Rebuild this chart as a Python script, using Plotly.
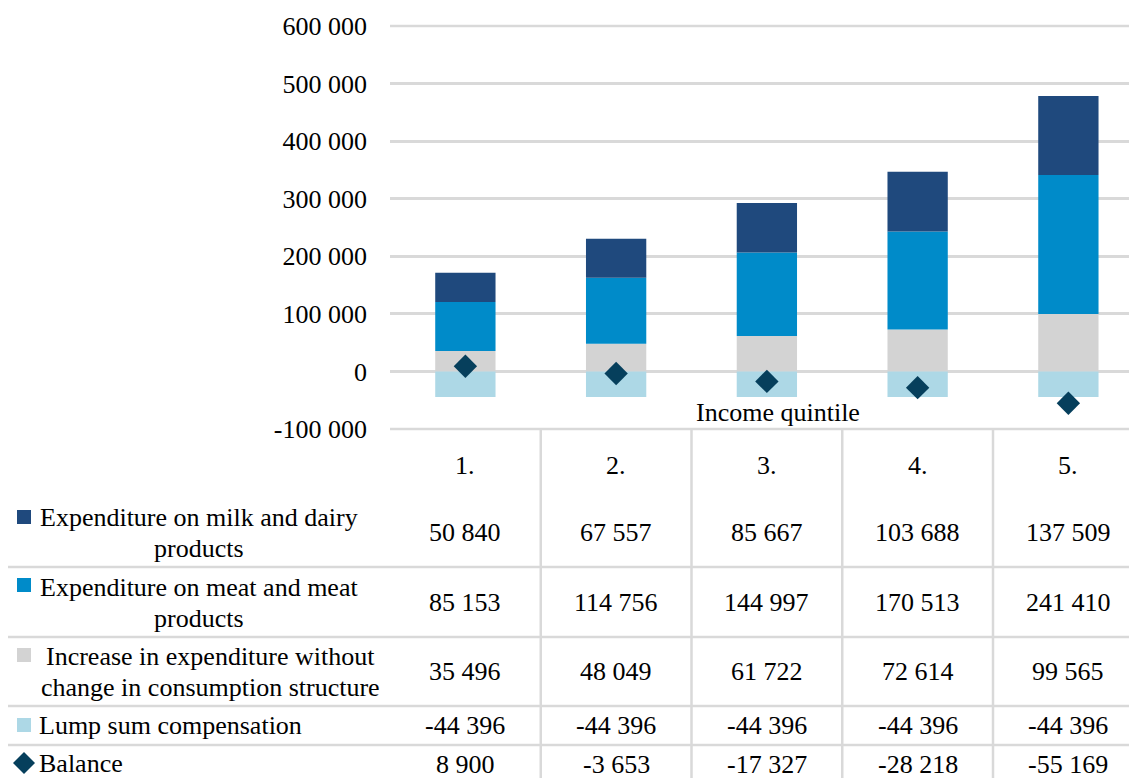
import plotly.graph_objects as go

# ---------------- data ----------------
quintiles = ["1.", "2.", "3.", "4.", "5."]
milk = [50840, 67557, 85667, 103688, 137509]
meat = [85153, 114756, 144997, 170513, 241410]
increase = [35496, 48049, 61722, 72614, 99565]
lump = [-44396, -44396, -44396, -44396, -44396]
balance = [8900, -3653, -17327, -28218, -55169]
y_ticks = [-100000, 0, 100000, 200000, 300000, 400000, 500000, 600000]
axis_title = "Income quintile"
row_labels = [
    ["Expenditure on milk and dairy", "products"],
    ["Expenditure on meat and meat", "products"],
    ["Increase in expenditure without", "change in consumption structure"],
    ["Lump sum compensation"],
    ["Balance"],
]

C_MILK = "#1F497D"
C_MEAT = "#008BC9"
C_INC = "#D3D3D3"
C_LUMP = "#ADD8E6"
C_BAL = "#063F5C"
GRID = "#D9D9D9"
FONT = "'Times New Roman', 'Liberation Serif', Tinos, 'DejaVu Serif', serif"
FS = 26

W, H = 1129, 778
L, T, B = 390, 26, 349
PW = W - L
PH = H - T - B
PB = H - B  # plot bottom pixel


def fmt(v):
    return f"{v:,}".replace(",", " ")


def px_x(x):
    return (x - L) / PW


def px_y(y):
    return (PB - y) / PH


xs = list(range(len(quintiles)))
fig = go.Figure()
fig.add_trace(go.Bar(x=xs, y=increase, marker=dict(color=C_INC, line=dict(width=0)), width=0.4, name=row_labels[2][0]))
fig.add_trace(go.Bar(x=xs, y=meat, marker=dict(color=C_MEAT, line=dict(width=0)), width=0.4, name=row_labels[1][0]))
fig.add_trace(go.Bar(x=xs, y=milk, marker=dict(color=C_MILK, line=dict(width=0)), width=0.4, name=row_labels[0][0]))
fig.add_trace(go.Bar(x=xs, y=lump, marker=dict(color=C_LUMP, line=dict(width=0)), width=0.4, name=row_labels[3][0]))
fig.add_trace(go.Scatter(x=xs, y=balance, mode="markers",
                         marker=dict(symbol="diamond", size=18, color=C_BAL, line=dict(width=0)),
                         name="Balance"))

shapes = []
annotations = []

# top gridline (600 000) and table top line (the -100 000 gridline)
for yy in [T, PB]:
    shapes.append(dict(type="line", xref="paper", yref="paper", x0=0, x1=1.0,
                       y0=px_y(yy), y1=px_y(yy), line=dict(color=GRID, width=2.5), layer="below"))
# row separator lines
for yy in [567, 637, 706, 745]:
    shapes.append(dict(type="line", xref="paper", yref="paper", x0=px_x(8), x1=1.0,
                       y0=px_y(yy), y1=px_y(yy), line=dict(color=GRID, width=2.5)))
# column separator lines
for i in range(len(quintiles) - 1):
    shapes.append(dict(type="line", xref="x", yref="paper", x0=i + 0.5, x1=i + 0.5,
                       y0=px_y(PB), y1=px_y(H + 2), line=dict(color=GRID, width=2.5)))

# header row
for i, q in enumerate(quintiles):
    annotations.append(dict(x=i, xref="x", y=px_y(465), yref="paper", text=q, showarrow=False,
                            xanchor="center", yanchor="middle", font=dict(family=FONT, size=FS, color="black")))

# value rows
row_values = [milk, meat, increase, lump, balance]
row_y = [532, 602, 671, 725, 764]
for vals, yy in zip(row_values, row_y):
    for i, v in enumerate(vals):
        annotations.append(dict(x=i, xref="x", y=px_y(yy), yref="paper", text=fmt(v), showarrow=False,
                                xanchor="center", yanchor="middle",
                                font=dict(family=FONT, size=FS, color="black")))

# row labels
label_pos = [
    [(199, 517), (199, 548)],
    [(199, 587), (199, 618)],
    [(210, 656), (210, 687)],
    [(37, 725)],
    [(37, 763)],
]
for lines, pos in zip(row_labels, label_pos):
    for k, (txt, (lx, ly)) in enumerate(zip(lines, pos)):
        anchor = "center" if len(lines) > 1 else "left"
        annotations.append(dict(x=px_x(lx), xref="paper", y=px_y(ly), yref="paper", text=txt,
                                showarrow=False, xanchor=anchor, yanchor="middle",
                                font=dict(family=FONT, size=FS, color="black")))

# legend keys
key_colors = [C_MILK, C_MEAT, C_INC, C_LUMP]
key_y = [517, 585, 655, 725]
for c, ky in zip(key_colors, key_y):
    shapes.append(dict(type="rect", xref="paper", yref="paper", x0=px_x(17), x1=px_x(31),
                       y0=px_y(ky - 7), y1=px_y(ky + 7), fillcolor=c, line=dict(width=0)))
# diamond key
cx, cy = 24, 763
pts = [(cx, cy - 11), (cx + 11, cy), (cx, cy + 11), (cx - 11, cy)]
path = "M " + " L ".join(f"{px_x(a)},{px_y(b)}" for a, b in pts) + " Z"
shapes.append(dict(type="path", xref="paper", yref="paper", path=path, fillcolor=C_BAL, line=dict(width=0)))

# axis title
annotations.append(dict(x=px_x(778), xref="paper", y=px_y(412), yref="paper", text=axis_title,
                        showarrow=False, xanchor="center", yanchor="middle",
                        font=dict(family=FONT, size=FS, color="black")))

fig.update_layout(
    width=W, height=H,
    margin=dict(l=L, r=0, t=T, b=B, pad=0),
    barmode="relative",
    showlegend=False,
    plot_bgcolor="white", paper_bgcolor="white",
    font=dict(family=FONT, size=FS, color="black"),
    shapes=shapes,
    annotations=annotations,
    xaxis=dict(range=[-0.5, -0.5 + PW / 150.75], showgrid=False, showticklabels=False,
               zeroline=False, showline=False, ticks=""),
    yaxis=dict(range=[-100000, 600000], tickvals=y_ticks,
               ticktext=[fmt(v) for v in y_ticks], showgrid=True, gridcolor=GRID, gridwidth=2.5,
               zeroline=True, zerolinecolor=GRID, zerolinewidth=2.5, showline=False, ticks="",
               ticklabelstandoff=22, tickfont=dict(family=FONT, size=FS, color="black")),
)

fig.write_html("out.html")
